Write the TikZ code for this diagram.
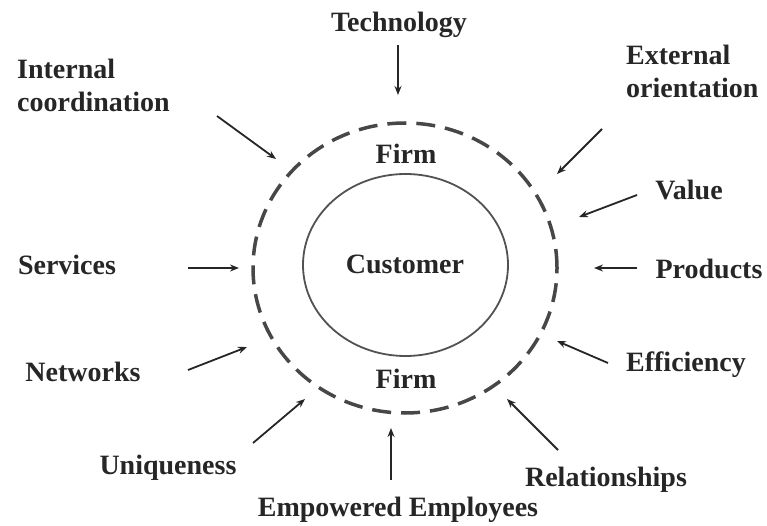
\documentclass[tikz,border=0pt]{standalone}
\usepackage{fontspec}
\setmainfont{Liberation Serif}
\usetikzlibrary{arrows.meta}

\tikzset{
  label/.style={inner sep=0pt, font=\bfseries\fontsize{28}{33}\selectfont, text=black!85},
  pointer/.style={line width=1.8pt, color=black!85, -{Stealth[length=9pt,width=7pt]}}
}

\begin{document}
\begin{tikzpicture}[x=1pt,y=-1pt]
 \useasboundingbox (0,0) rectangle (767,526);

 % circles
 \draw[line width=3.5pt, color=black!72, dash pattern=on 19pt off 10pt]
   (405,268) ellipse [x radius=152pt, y radius=145pt];
 \draw[line width=1.8pt, color=black!68]
   (405.5,265) ellipse [x radius=102.5pt, y radius=91pt];

 % centre labels
 \node[label] (customer) at (405,264) {Customer};
 \node[label] (firmtop) at (406,154) {Firm};
 \node[label] (firmbot) at (406,379) {Firm};

 % outer labels
 \node[label] (tech) at (399,25) {Technology};
 \node[label, anchor=west, align=left] (intc) at (17,85) {Internal\\coordination};
 \node[label, anchor=west, align=left] (extc) at (626,71) {External\\orientation};
 \node[label] (val) at (689,190) {Value};
 \node[label] (prod) at (709,269) {Products};
 \node[label] (eff) at (686,365) {Efficiency};
 \node[label] (rel) at (606,480) {Relationships};
 \node[label] (emp) at (398,510) {Empowered Employees};
 \node[label] (uniq) at (168,468) {Uniqueness};
 \node[label] (net) at (83,372) {Networks};
 \node[label] (serv) at (67,265) {Services};

 % arrow ends
 \coordinate (techA) at (398,45);  \coordinate (techB) at (398,95);
 \coordinate (intcA) at (217,116); \coordinate (intcB) at (276,159);
 \coordinate (extcA) at (602,129); \coordinate (extcB) at (557,174);
 \coordinate (valA) at (637,195);  \coordinate (valB) at (579,217);
 \coordinate (prodA) at (637,268); \coordinate (prodB) at (594,268);
 \coordinate (effA) at (608,363);  \coordinate (effB) at (557,341);
 \coordinate (relA) at (558,450);  \coordinate (relB) at (507,399);
 \coordinate (empA) at (391,480);  \coordinate (empB) at (391,428);
 \coordinate (uniqA) at (253,443); \coordinate (uniqB) at (305,399);
 \coordinate (netA) at (188,370);  \coordinate (netB) at (247,347);
 \coordinate (servA) at (188,268); \coordinate (servB) at (239,268);

 % arrows
 \draw[pointer] (techA) -- (techB);
 \draw[pointer] (intcA) -- (intcB);
 \draw[pointer] (extcA) -- (extcB);
 \draw[pointer] (valA) -- (valB);
 \draw[pointer] (prodA) -- (prodB);
 \draw[pointer] (effA) -- (effB);
 \draw[pointer] (relA) -- (relB);
 \draw[pointer] (empA) -- (empB);
 \draw[pointer] (uniqA) -- (uniqB);
 \draw[pointer] (netA) -- (netB);
 \draw[pointer] (servA) -- (servB);
\end{tikzpicture}
\end{document}
